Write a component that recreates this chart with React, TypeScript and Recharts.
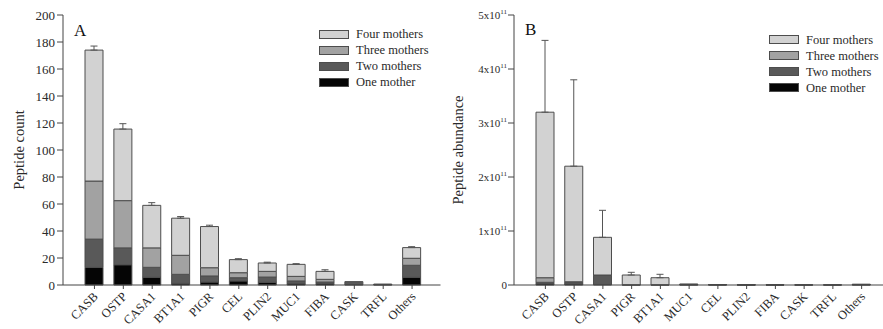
import React from 'react';
import { BarChart, Bar, XAxis, YAxis, ErrorBar, Legend } from 'recharts';

// ---------- Panel A: peptide count ----------
const catsA = ['CASB', 'OSTP', 'CASA1', 'BT1A1', 'PIGR', 'CEL', 'PLIN2', 'MUC1', 'FIBA', 'CASK', 'TRFL', 'Others'];
const oneA = [13, 15, 5.7, 1.2, 2.2, 3, 2, 1.2, 1.2, 0.3, 0.2, 5.7];
const twoA = [21, 12.5, 7.4, 6.7, 4.5, 2.4, 3.9, 1.8, 1, 2.2, 0.5, 8.9];
const threeA = [43, 35, 14.4, 14.1, 6.1, 3.7, 4.2, 3.4, 2, 0, 0, 5.2];
const fourA = [97, 53, 31.5, 27.5, 30.5, 9.7, 6.2, 8.9, 5.9, 0, 0, 7.9];
const errA = [3, 4, 2, 1.2, 1, 0.7, 0.6, 0.5, 1.2, 0.2, 0.2, 0.7];
const ticksA = [0, 20, 40, 60, 80, 100, 120, 140, 160, 180, 200];

// ---------- Panel B: peptide abundance ----------
const catsB = ['CASB', 'OSTP', 'CASA1', 'PIGR', 'BT1A1', 'MUC1', 'CEL', 'PLIN2', 'FIBA', 'CASK', 'TRFL', 'Others'];
const oneB = [2.5e9, 2e9, 1e9, 0.3e9, 0.3e9, 0.3e9, 0.2e9, 0.1e9, 0.1e9, 0.05e9, 0.05e9, 0.3e9];
const twoB = [2.5e9, 3e9, 17e9, 0.2e9, 0.2e9, 1e9, 0.5e9, 0.3e9, 0.3e9, 0.1e9, 0.2e9, 0.8e9];
const threeB = [8.5e9, 1e9, 0.5e9, 0, 0, 0.2e9, 0.2e9, 0.1e9, 0.1e9, 0, 0, 0.1e9];
const fourB = [306.5e9, 214e9, 69.8e9, 18e9, 13e9, 0, 0, 0, 0, 0, 0, 0];
const errB = [133e9, 160e9, 50e9, 5e9, 6.3e9, 0, 0, 0, 0, 0, 0, 0];
const ticksB = [0, 1e11, 2e11, 3e11, 4e11, 5e11];

const legendItems = [
  { key: 'four', label: 'Four mothers' },
  { key: 'three', label: 'Three mothers' },
  { key: 'two', label: 'Two mothers' },
  { key: 'one', label: 'One mother' },
];

const COLORS: Record<string, string> = {
  one: '#050505',
  two: '#595959',
  three: '#a2a2a2',
  four: '#d2d2d2',
};
const STROKE = '#4d4d4d';
const AXIS = '#444444';
const TEXT = '#2a2a2a';
const FONT = '"Liberation Serif", "DejaVu Serif", serif';

const dataA = catsA.map((c, i) => ({
  cat: c,
  one: oneA[i],
  two: twoA[i],
  three: threeA[i],
  four: fourA[i],
  err: [0, errA[i]],
}));

const dataB = catsB.map((c, i) => ({
  cat: c,
  one: oneB[i],
  two: twoB[i],
  three: threeB[i],
  four: fourB[i],
  err: [0, errB[i]],
}));

const XTick = (props: any) => {
  const { x, y, payload } = props;
  return (
    <text
      transform={`translate(${x - 1},${y + 1}) rotate(-45)`}
      textAnchor="end"
      dy="0.6em"
      fontSize={12.5}
      fontFamily={FONT}
      fill={TEXT}
    >
      {payload.value}
    </text>
  );
};

const YTickA = (props: any) => {
  const { x, y, payload } = props;
  return (
    <text x={x} y={y} dy="0.35em" textAnchor="end" fontSize={13} fontFamily={FONT} fill={TEXT}>
      {payload.value}
    </text>
  );
};

const YTickB = (props: any) => {
  const { x, y, payload } = props;
  const v = payload.value;
  if (v === 0) {
    return (
      <text x={x} y={y} dy="0.35em" textAnchor="end" fontSize={11} fontFamily={FONT} fill={TEXT}>
        0
      </text>
    );
  }
  const n = Math.round(v / 1e11);
  return (
    <text x={x} y={y} dy="0.35em" textAnchor="end" fontSize={11} fontFamily={FONT} fill={TEXT}>
      {`${n}x10`}
      <tspan dy={-5} fontSize={7}>11</tspan>
    </text>
  );
};

const LegendBox = () => (
  <div style={{ fontFamily: FONT, fontSize: 12.5, color: TEXT }}>
    {legendItems.map((it) => (
      <div key={it.key} style={{ display: 'flex', alignItems: 'center', height: 16, lineHeight: '16px' }}>
        <span
          style={{
            display: 'inline-block',
            width: 28,
            height: 7,
            background: COLORS[it.key],
            border: `1px solid ${STROKE}`,
            marginRight: 7,
          }}
        />
        <span>{it.label}</span>
      </div>
    ))}
  </div>
);

const YLabel = (text: string, cx: number) => (props: any) => (
  <text
    transform={`translate(${cx},150) rotate(-90)`}
    textAnchor="middle"
    dy="0.35em"
    fontSize={14.5}
    fontFamily={FONT}
    fill={TEXT}
  >
    {text}
  </text>
);

const renderBars = () => [
  <Bar key="one" dataKey="one" stackId="s" fill={COLORS.one} stroke={STROKE} strokeWidth={1} isAnimationActive={false} />,
  <Bar key="two" dataKey="two" stackId="s" fill={COLORS.two} stroke={STROKE} strokeWidth={1} isAnimationActive={false} />,
  <Bar key="three" dataKey="three" stackId="s" fill={COLORS.three} stroke={STROKE} strokeWidth={1} isAnimationActive={false} />,
  <Bar key="four" dataKey="four" stackId="s" fill={COLORS.four} stroke={STROKE} strokeWidth={1} isAnimationActive={false}>
    <ErrorBar dataKey="err" direction="y" width={3.5} stroke="#555" strokeWidth={1} />
  </Bar>,
];

export default function App() {
  return (
    <div style={{ position: 'absolute', left: 0, top: 0, width: 883, height: 329, background: '#fff', overflow: 'hidden' }}>
      <div style={{ position: 'absolute', left: 0, top: 0 }}>
        <BarChart width={441} height={329} data={dataA} margin={{ top: 15, right: 0.5, bottom: 4, left: 0 }} barSize={18}>
          <XAxis
            dataKey="cat"
            interval={0}
            height={40}
            tick={<XTick />}
            tickSize={4}
            tickMargin={2}
            padding={{ left: 17, right: 14 }}
            axisLine={{ stroke: AXIS }}
            tickLine={{ stroke: AXIS }}
          />
          <XAxis xAxisId="top" orientation="top" dataKey="cat" height={0} tick={false} tickLine={false} axisLine={{ stroke: AXIS }} />
          <YAxis
            domain={[0, 200]}
            ticks={ticksA}
            width={63}
            tickSize={6}
            tickMargin={2}
            tick={<YTickA />}
            axisLine={{ stroke: AXIS }}
            tickLine={{ stroke: AXIS }}
            label={{ content: YLabel('Peptide count', 19) }}
          />
          <YAxis yAxisId="right" orientation="right" width={0} tick={false} tickLine={false} axisLine={{ stroke: AXIS }} />
          {renderBars()}
          <Legend
            layout="vertical"
            align="center"
            verticalAlign="middle"
            wrapperStyle={{ left: 319, top: 26, width: 'auto' }}
            content={() => <LegendBox />}
          />
        </BarChart>
        <div style={{ position: 'absolute', left: 74, top: 21, fontFamily: FONT, fontSize: 17, color: '#111', lineHeight: '20px' }}>A</div>
      </div>
      <div style={{ position: 'absolute', left: 440, top: 0 }}>
        <BarChart width={443} height={329} data={dataB} margin={{ top: 15, right: 0, bottom: 4, left: 0 }} barSize={18}>
          <XAxis
            dataKey="cat"
            interval={0}
            height={40}
            tick={<XTick />}
            tickSize={4}
            tickMargin={2}
            padding={{ left: 17, right: 7 }}
            axisLine={{ stroke: AXIS }}
            tickLine={{ stroke: AXIS }}
          />
          <XAxis xAxisId="top" orientation="top" dataKey="cat" height={0} tick={false} tickLine={false} axisLine={{ stroke: AXIS }} />
          <YAxis
            domain={[0, 5e11]}
            ticks={ticksB}
            width={74}
            tickSize={6}
            tickMargin={1}
            tick={<YTickB />}
            axisLine={{ stroke: AXIS }}
            tickLine={{ stroke: AXIS }}
            label={{ content: YLabel('Peptide abundance', 18) }}
          />
          {renderBars()}
          <Legend
            layout="vertical"
            align="center"
            verticalAlign="middle"
            wrapperStyle={{ left: 329, top: 31.5, width: 'auto' }}
            content={() => <LegendBox />}
          />
        </BarChart>
        <div style={{ position: 'absolute', left: 85, top: 20, fontFamily: FONT, fontSize: 17, color: '#111', lineHeight: '20px' }}>B</div>
      </div>
    </div>
  );
}
